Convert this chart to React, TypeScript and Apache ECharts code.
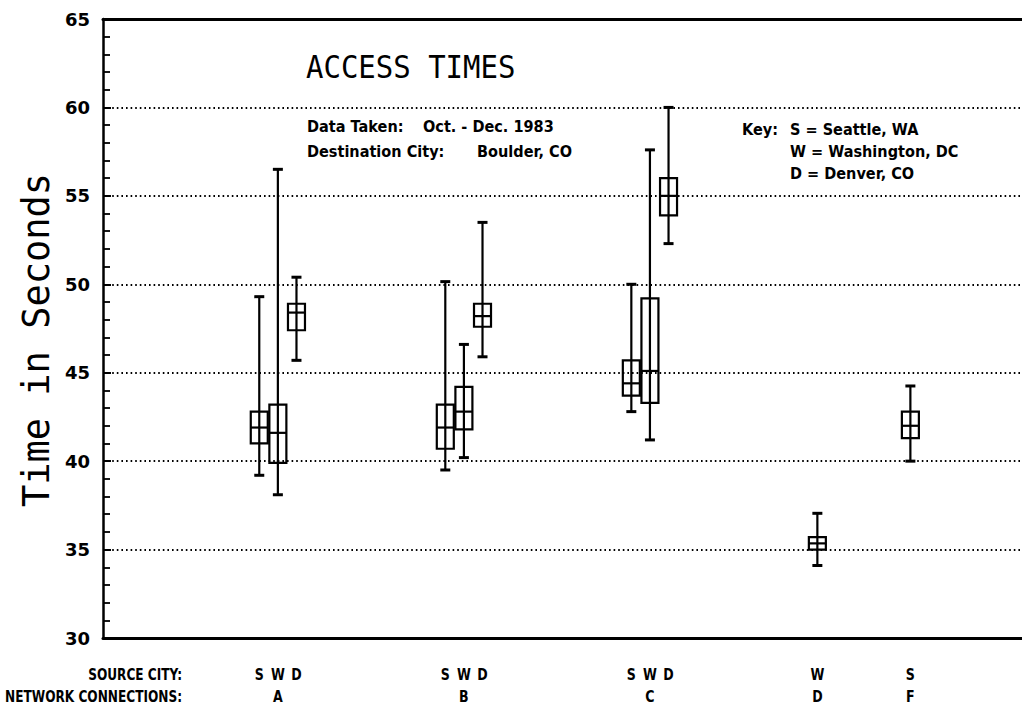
import React, { useEffect, useRef } from "react";
import * as echarts from "echarts";

// ---- data ----
const boxPositions = [9, 10, 11, 19, 20, 21, 29, 30, 31, 39, 44];
const sourceLetters = ["S", "W", "D", "S", "W", "D", "S", "W", "D", "W", "S"];
const lows = [39.2, 38.1, 45.7, 39.5, 40.2, 45.9, 42.8, 41.2, 52.3, 34.1, 40.0];
const q1s = [41.0, 39.9, 47.4, 40.7, 41.8, 47.6, 43.7, 43.3, 53.9, 35.0, 41.3];
const medians = [41.9, 41.6, 48.4, 41.9, 42.8, 48.2, 44.4, 45.1, 55.0, 35.35, 42.0];
const q3s = [42.8, 43.2, 48.9, 43.2, 44.2, 48.9, 45.7, 49.2, 56.0, 35.7, 42.8];
const highs = [49.3, 56.5, 50.4, 50.15, 46.6, 53.5, 50.0, 57.6, 60.0, 37.05, 44.25];

const connectionNames = ["A", "B", "C", "D", "F"];
const connectionPositions = [10, 20, 30, 39, 44];

const yTicks = [30, 35, 40, 45, 50, 55, 60, 65];

const COND_FONT = "'DejaVu Sans Condensed', 'Liberation Sans Narrow', 'DejaVu Sans'";
const NOTE_FONT = "'DejaVu Sans'";

export default function App() {
  const ref = useRef<HTMLDivElement>(null);

  useEffect(() => {
    document.body.style.margin = "0";
    const chart = echarts.init(ref.current!, null, { renderer: "svg" });

    const boxData = boxPositions.map((p, i) => [p, lows[i], q1s[i], medians[i], q3s[i], highs[i]]);
    const connData = connectionPositions.map((p) => [p, yTicks[0]]);

    const smallText = (text: string, x: number, y: number, align: string, font: string, size: number) => ({
      type: "text",
      x,
      y,
      scaleY: 1.15,
      style: {
        text,
        fill: "#000",
        fontSize: size,
        fontWeight: "bold",
        fontFamily: font,
        align,
        verticalAlign: "middle",
        textAlign: align,
        textVerticalAlign: "middle",
      },
    });

    const option: any = {
      animation: false,
      backgroundColor: "#fff",
      grid: { left: 103, right: 0, top: 19, bottom: 71, containLabel: false },
      xAxis: [
        {
          type: "value",
          min: 0.6,
          max: 50,
          position: "bottom",
          axisLine: { show: true, onZero: false, lineStyle: { color: "#000", width: 3 } },
          axisTick: { show: false },
          axisLabel: { show: false },
          splitLine: { show: false },
        },
        {
          type: "value",
          min: 0.6,
          max: 50,
          position: "top",
          axisLine: { show: true, onZero: false, lineStyle: { color: "#000", width: 3 } },
          axisTick: { show: false },
          axisLabel: { show: false },
          splitLine: { show: false },
        },
      ],
      yAxis: {
        type: "value",
        min: 30,
        max: 65,
        interval: 5,
        axisLine: { show: true, lineStyle: { color: "#000", width: 2.5 } },
        axisTick: { show: true, inside: true, length: 8, lineStyle: { color: "#000", width: 2 } },
        minorTick: { show: true, splitNumber: 5, length: 7, lineStyle: { color: "#000", width: 1.8 } },
        axisLabel: {
          color: "#000",
          fontSize: 18,
          fontWeight: "bold",
          fontFamily: "DejaVu Sans",
          margin: 13,
          formatter: (v: number) => (yTicks.includes(v) ? String(v) : ""),
        },
        splitLine: {
          show: true,
          showMinLine: false,
          showMaxLine: false,
          lineStyle: { color: "#000", type: [1.6, 3], width: 1.8 },
        },
      },
      series: [
        {
          type: "custom",
          clip: false,
          encode: { x: 0, y: [1, 2, 3, 4, 5] },
          data: boxData,
          renderItem: (params: any, api: any) => {
            const x = api.value(0);
            const pLow = api.coord([x, api.value(1)]);
            const pQ1 = api.coord([x, api.value(2)]);
            const pMed = api.coord([x, api.value(3)]);
            const pQ3 = api.coord([x, api.value(4)]);
            const pHigh = api.coord([x, api.value(5)]);
            const base = api.coord([x, yTicks[0]]);
            const cx = pLow[0];
            const bw = 8.5;
            const cw = 5;
            const ls = { stroke: "#000", lineWidth: 2.2, fill: "none" };
            return {
              type: "group",
              children: [
                { type: "line", shape: { x1: cx, y1: pLow[1], x2: cx, y2: pHigh[1] }, style: ls },
                { type: "line", shape: { x1: cx - cw, y1: pHigh[1], x2: cx + cw, y2: pHigh[1] }, style: { ...ls, lineWidth: 3 } },
                { type: "line", shape: { x1: cx - cw, y1: pLow[1], x2: cx + cw, y2: pLow[1] }, style: { ...ls, lineWidth: 3 } },
                { type: "rect", shape: { x: cx - bw, y: pQ3[1], width: 2 * bw, height: pQ1[1] - pQ3[1] }, style: ls },
                { type: "line", shape: { x1: cx - bw, y1: pMed[1], x2: cx + bw, y2: pMed[1] }, style: ls },
                smallText(sourceLetters[params.dataIndex], cx, base[1] + 37, "center", COND_FONT, 14),
              ],
            };
          },
        },
        {
          type: "custom",
          clip: false,
          encode: { x: 0, y: 1 },
          data: connData,
          renderItem: (params: any, api: any) => {
            const p = api.coord([api.value(0), api.value(1)]);
            return smallText(connectionNames[params.dataIndex], p[0], p[1] + 59, "center", COND_FONT, 14);
          },
        },
      ],
      graphic: [
        {
          type: "text",
          x: 36,
          y: 340,
          rotation: Math.PI / 2,
          style: {
            text: "Time in Seconds",
            fill: "#000",
            fontSize: 37,
            fontFamily: "DejaVu Sans Mono",
            align: "center",
            verticalAlign: "middle",
            textAlign: "center",
            textVerticalAlign: "middle",
          },
        },
        {
          type: "text",
          x: 306,
          y: 67,
          scaleY: 1.1,
          style: {
            text: "ACCESS TIMES",
            fill: "#000",
            fontSize: 29,
            fontFamily: "DejaVu Sans Mono",
            align: "left",
            verticalAlign: "middle",
            textAlign: "left",
            textVerticalAlign: "middle",
          },
        },
        smallText("Data Taken:", 307, 127, "left", NOTE_FONT, 14.5),
        smallText("Oct. - Dec. 1983", 423, 127, "left", NOTE_FONT, 14.5),
        smallText("Destination City:", 307, 152, "left", NOTE_FONT, 14.5),
        smallText("Boulder, CO", 477, 152, "left", NOTE_FONT, 14.5),
        smallText("Key:", 742, 130, "left", NOTE_FONT, 14.5),
        smallText("S = Seattle, WA", 790, 130, "left", NOTE_FONT, 14.5),
        smallText("W = Washington, DC", 790, 152, "left", NOTE_FONT, 14.5),
        smallText("D = Denver, CO", 790, 174, "left", NOTE_FONT, 14.5),
        smallText("SOURCE CITY:", 182, 675, "right", COND_FONT, 13.5),
        smallText("NETWORK CONNECTIONS:", 182, 697, "right", COND_FONT, 13.5),
      ],
    };

    chart.setOption(option);
    return () => chart.dispose();
  }, []);

  return <div ref={ref} style={{ width: 1022, height: 709 }} />;
}
